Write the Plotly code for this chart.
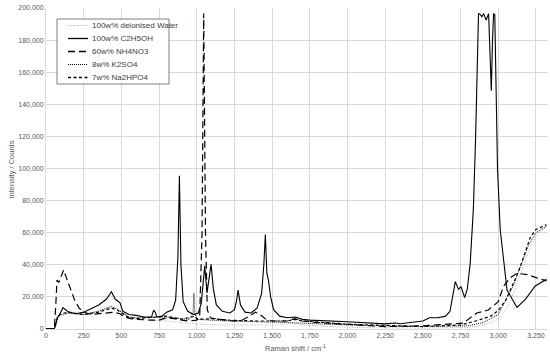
import plotly.graph_objects as go

# ---------------- data ----------------
water_x = [0, 55, 65, 80, 100, 150, 250, 350, 430, 470, 500, 550, 600, 800, 1000, 1200,
           1500, 1650, 1700, 2000, 2500, 2800, 2900, 3000, 3050, 3100, 3150, 3200, 3250, 3320]
water_y = [300, 300, 3000, 6500, 8000, 9500, 9000, 11500, 14500, 13500, 11000, 7500, 6000, 5000,
           3000, 2500, 2500, 3500, 2500, 1000, 500, 1000, 2500, 6000, 12000, 22000, 35000,
           48000, 58000, 64000]

ethanol_x = [0, 55, 62, 75, 90, 113, 150, 200, 250, 300, 350, 400, 434, 460, 490, 510, 550,
             600, 650, 700, 714, 725, 735, 770, 800, 840, 860, 875, 885, 895, 910, 940, 980,
             1010, 1030, 1053, 1068, 1095, 1110, 1130, 1170, 1220, 1250, 1265, 1274, 1290,
             1320, 1360, 1400, 1430, 1445, 1455, 1465, 1477, 1490, 1510, 1550, 1600, 1654,
             1700, 1750, 2000, 2250, 2317, 2350, 2500, 2543, 2600, 2650, 2680, 2700, 2715,
             2737, 2753, 2777, 2795, 2814, 2835, 2850, 2862, 2869, 2880, 2892, 2903, 2920,
             2936, 2945, 2954, 2962, 2969, 2977, 2985, 2995, 3013, 3058, 3124, 3180, 3245,
             3320]
ethanol_y = [300, 300, 1500, 7000, 9000, 13300, 10500, 9500, 10500, 12500, 15000, 18500,
             23200, 18500, 16500, 11000, 9000, 8500, 7500, 7500, 11800, 10500, 7500, 8000,
             10500, 12000, 18000, 45000, 95500, 40000, 17000, 11000, 9000, 10000, 16000,
             39300, 22500, 40300, 25000, 15000, 11000, 10000, 12000, 18000, 24300, 15000,
             10500, 10000, 13000, 22000, 40000, 58800, 35000, 29500, 20000, 12000, 8000, 7000,
             7500, 6000, 5500, 4500, 3200, 3700, 3300, 5000, 7000, 7000, 8000, 11000, 22000,
             29500, 24700, 26400, 19500, 25000, 41000, 75000, 120000, 170000, 196500, 196000,
             194500, 196500, 192500, 196500, 175000, 148500, 180000, 196500, 196000, 150000,
             100000, 62000, 24300, 13500, 18500, 26800, 31000]

nh4no3_x = [0, 55, 65, 73, 85, 100, 117, 135, 160, 190, 220, 250, 300, 350, 400, 450, 490,
            520, 560, 600, 700, 750, 800, 850, 900, 950, 1000, 1020, 1035, 1046, 1058, 1070,
            1090, 1150, 1250, 1300, 1350, 1389, 1420, 1460, 1500, 1600, 1650, 1700, 1800,
            2000, 2250, 2500, 2700, 2770, 2800, 2858, 2934, 3000, 3034, 3080, 3124, 3200,
            3250, 3320]
nh4no3_y = [300, 300, 15000, 30500, 29000, 33000, 36800, 32000, 25000, 18000, 13000, 10500,
            9000, 9500, 10000, 10500, 9500, 7500, 6500, 6000, 5500, 5500, 7000, 6500, 5500,
            5000, 5500, 9000, 60000, 196500, 60000, 12000, 7000, 6000, 5000, 5500, 8000, 10500,
            9000, 6000, 5000, 5000, 6500, 5000, 4000, 3000, 1500, 2000, 3000, 3700, 6000,
            10000, 11800, 17000, 26400, 32000, 34700, 33800, 32000, 30000]

k2so4_x = [0, 55, 65, 80, 100, 150, 250, 350, 430, 470, 500, 550, 600, 800, 950, 975, 981,
           987, 1000, 1200, 1400, 1600, 2000, 2500, 2800, 2900, 3000, 3100, 3200, 3250, 3320]
k2so4_y = [300, 300, 4000, 7500, 9000, 10000, 9000, 11000, 14000, 12500, 10500, 7500, 7000,
           7500, 6000, 10000, 22200, 10000, 6000, 5000, 4500, 4000, 2500, 1500, 2000, 4000,
           9000, 27000, 52000, 60000, 64000]

na2hpo4_x = [0, 55, 65, 80, 100, 150, 250, 350, 430, 470, 500, 550, 600, 800, 900, 990,
             1000, 1050, 1100, 1200, 1400, 1600, 1650, 1700, 2000, 2500, 2750, 2850, 2950,
             3000, 3050, 3080, 3124, 3150, 3212, 3250, 3320]
na2hpo4_y = [300, 300, 4000, 8000, 9500, 10500, 9000, 10500, 13000, 12000, 10000, 7000,
             6500, 8000, 6000, 8000, 6500, 6000, 6500, 5500, 5000, 5000, 6000, 5000, 3000,
             1500, 2500, 5000, 8000, 11500, 18000, 24000, 33500, 40000, 57000, 62000, 65000]

series_names = ["100w% deionised Water", "100w% C2H5OH", "60w% NH4NO3", "8w% K2SO4",
                "7w% Na2HPO4"]

# ---------------- figure ----------------
FONT = "Liberation Sans"
W, H = 550, 355
ML, MR, MT, MB = 46, 2, 8, 26
PW, PH = W - ML - MR, H - MT - MB


def px(xp):
    return (xp - ML) / PW


def py(yp):
    return (H - MB - yp) / PH


fig = go.Figure()

line_styles = [
    dict(color="#b0b0b0", width=1, dash="1px,1.5px"),
    dict(color="#000000", width=1.1, dash="solid"),
    dict(color="#000000", width=1.2, dash="7px,4px"),
    dict(color="#000000", width=0.9, dash="1px,1px"),
    dict(color="#000000", width=1.2, dash="3px,2.5px"),
]
data = [(water_x, water_y), (ethanol_x, ethanol_y), (nh4no3_x, nh4no3_y),
        (k2so4_x, k2so4_y), (na2hpo4_x, na2hpo4_y)]
for name, (xs, ys), ln in zip(series_names, data, line_styles):
    fig.add_trace(go.Scatter(x=xs, y=ys, mode="lines", name=name, line=ln,
                             showlegend=False))

# custom compact legend (box, line samples, labels)
shapes = [dict(type="rect", xref="paper", yref="paper", x0=px(57), x1=px(169),
               y0=py(84), y1=py(19), line=dict(color="#7f7f7f", width=1),
               fillcolor="white", layer="above")]
annotations = []
rows = [25.5, 38.5, 51.5, 64.5, 77.5]
for name, ln, ry in zip(series_names, line_styles, rows):
    shapes.append(dict(type="line", xref="paper", yref="paper", x0=px(68), x1=px(88),
                       y0=py(ry), y1=py(ry), layer="above",
                       line=dict(color=ln["color"], width=ln["width"] + 0.2,
                                 dash=ln["dash"])))
    annotations.append(dict(text=name, xref="paper", yref="paper", x=px(90), y=py(ry),
                            xanchor="left", yanchor="middle", showarrow=False,
                            font=dict(family=FONT, size=8, color="#404040")))

annotations.append(dict(text="Intensity / Counts", xref="paper", yref="paper",
                        x=px(10.5), y=py(170), textangle=-90, showarrow=False,
                        xanchor="center", yanchor="middle",
                        font=dict(family=FONT, size=7.5, color="#595959")))
annotations.append(dict(text="Raman shift / cm<sup>-1</sup>", xref="paper", yref="paper",
                        x=px(295), y=py(348), showarrow=False,
                        xanchor="center", yanchor="middle",
                        font=dict(family=FONT, size=7.5, color="#595959")))

fig.update_layout(
    width=W, height=H,
    margin=dict(l=ML, r=MR, t=MT, b=MB),
    paper_bgcolor="white", plot_bgcolor="white",
    font=dict(family=FONT, size=7, color="#595959"),
    showlegend=False,
    shapes=shapes, annotations=annotations,
)
fig.update_xaxes(
    range=[0, 3330], tickvals=list(range(0, 3300, 250)), tickformat=",",
    showgrid=True, gridcolor="#d9d9d9", gridwidth=1, automargin=False,
    showline=True, linecolor="#d9d9d9", zeroline=False, ticks="", ticklen=0,
)
fig.update_yaxes(
    range=[0, 200000], dtick=20000, tickformat=",",
    showgrid=True, gridcolor="#d9d9d9", gridwidth=1, automargin=False,
    showline=True, linecolor="#d9d9d9", zeroline=False, ticks="", ticklen=0,
)

fig.write_html(
    "out.html",
    config={"displayModeBar": False},
    post_script="document.body.style.margin='0';document.body.style.padding='0';"
                "document.body.style.overflow='hidden';",
)
